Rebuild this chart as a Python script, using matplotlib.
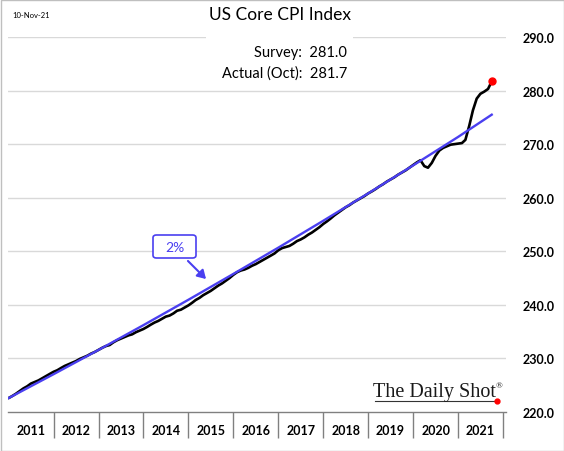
import matplotlib
matplotlib.use("Agg")
import matplotlib.pyplot as plt
import matplotlib.dates as mdates
from matplotlib.patches import Rectangle, FancyBboxPatch
from matplotlib.lines import Line2D
import pandas as pd

# ---------------- data ----------------
months = pd.date_range("2011-01-01", "2021-10-01", freq="MS")
core_cpi = [
    # 2011
    222.6, 223.0, 223.4, 223.9, 224.4, 224.8, 225.3, 225.6, 225.9, 226.3, 226.7, 227.1,
    # 2012
    227.5, 227.8, 228.2, 228.6, 228.9, 229.2, 229.5, 229.9, 230.2, 230.5, 230.9, 231.2,
    # 2013
    231.6, 232.0, 232.3, 232.5, 233.0, 233.4, 233.7, 234.0, 234.3, 234.5, 234.9, 235.2,
    # 2014
    235.5, 235.9, 236.3, 236.7, 237.0, 237.4, 237.8, 238.0, 238.4, 238.9, 239.1, 239.5,
    # 2015
    239.9, 240.4, 240.9, 241.3, 241.8, 242.2, 242.6, 243.1, 243.6, 244.0, 244.5, 245.0,
    # 2016
    245.6, 246.1, 246.4, 246.6, 246.9, 247.3, 247.6, 248.0, 248.4, 248.8, 249.2, 249.6,
    # 2017
    250.2, 250.6, 250.8, 251.0, 251.4, 251.9, 252.2, 252.6, 253.1, 253.5, 254.0, 254.5,
    # 2018
    255.1, 255.6, 256.1, 256.7, 257.2, 257.7, 258.2, 258.6, 259.1, 259.5, 259.9, 260.3,
    # 2019
    260.8, 261.2, 261.6, 262.1, 262.5, 263.0, 263.4, 263.8, 264.3, 264.7, 265.1, 265.6,
    # 2020
    266.1, 266.6, 267.0, 265.9, 265.6, 266.5, 267.8, 268.8, 269.3, 269.6, 269.9, 270.0,
    # 2021
    270.1, 270.2, 270.8, 273.4, 276.3, 278.5, 279.4, 279.8, 280.3, 281.7,
]
trend_dates = pd.to_datetime([
    "2011-01-01", "2012-01-01", "2013-01-01", "2014-01-01", "2015-01-01", "2016-01-01",
    "2017-01-01", "2018-01-01", "2019-01-01", "2020-01-01", "2021-01-01", "2021-10-01",
])
trend_vals = [222.6, 227.05, 231.59, 236.22, 240.95, 245.77,
              250.68, 255.70, 260.81, 266.03, 271.35, 275.5]
year_labels = ["2011", "2012", "2013", "2014", "2015", "2016",
               "2017", "2018", "2019", "2020", "2021"]
y_ticks = [220, 230, 240, 250, 260, 270, 280, 290]

title = "US Core CPI Index"
date_note = "10-Nov-21"
survey_text = "Survey:  281.0"
actual_text = "Actual (Oct):  281.7"

# ---------------- style ----------------
FONT = ["Lato", "DejaVu Sans"]
plt.rcParams["font.family"] = FONT
BLUE = "#4a3ff0"
W, H = 564, 452

fig = plt.figure(figsize=(W / 100, H / 100), dpi=100)
ax = fig.add_axes([8 / W, 1 - 413 / H, (506 - 8) / W, (413 - 38) / H])

ax.plot(months, core_cpi, color="black", lw=1.9, solid_joinstyle="round",
        solid_capstyle="round", zorder=3)
ax.plot(trend_dates, trend_vals, color=BLUE, lw=1.7, zorder=4)
ax.plot(months[-1:], core_cpi[-1:], "o", color="red", ms=5, zorder=5)

ax.set_ylim(220, 290)
ax.set_xlim(pd.Timestamp("2010-12-27"), pd.Timestamp("2022-01-25"))

# y axis on right
ax.yaxis.tick_right()
ax.set_yticks(y_ticks)
ax.set_yticklabels([f"{v:.1f}" for v in y_ticks], fontsize=9, fontweight="bold")
ax.tick_params(axis="y", length=0, pad=12)
for v in y_ticks[1:]:
    ax.axhline(v, color="#d9d9d9", lw=1, zorder=1)

# x axis: year boundaries as major ticks, labels at mid-year
bounds = [mdates.date2num(pd.Timestamp(f"{y}-01-01")) for y in range(2012, 2023)]
mids = [mdates.date2num(pd.Timestamp(f"{y}-07-02")) for y in range(2011, 2022)]
ax.xaxis.set_major_locator(matplotlib.ticker.FixedLocator(bounds))
ax.xaxis.set_major_formatter(matplotlib.ticker.NullFormatter())
ax.xaxis.set_minor_locator(matplotlib.ticker.FixedLocator(mids))
ax.xaxis.set_minor_formatter(matplotlib.ticker.FixedFormatter(year_labels))
ax.tick_params(axis="x", which="major", length=19, width=1, color="#808080", direction="out")
ax.tick_params(axis="x", which="minor", length=0, pad=9, labelsize=9)
for lab in ax.xaxis.get_minorticklabels():
    lab.set_fontweight("bold")

for s in ["top", "right", "left"]:
    ax.spines[s].set_visible(False)
ax.spines["bottom"].set_color("#808080")
ax.spines["bottom"].set_linewidth(1)
ax.spines["bottom"].set_zorder(2)

# white box behind survey text
fig.patches.append(Rectangle((206 / W, 1 - 86 / H), (353 - 206) / W, (86 - 26) / H,
                             transform=fig.transFigure, facecolor="white",
                             edgecolor="none", zorder=2))

fig.text(280 / W, 1 - 15 / H, title, ha="center", va="center", fontsize=12.5, zorder=5)
fig.text(12 / W, 1 - 16 / H, date_note, ha="left", va="center", fontsize=5.5, zorder=5)
fig.text(347 / W, 1 - 53 / H, survey_text, ha="right", va="center", fontsize=10.5, zorder=5)
fig.text(347 / W, 1 - 74 / H, actual_text, ha="right", va="center", fontsize=10.5, zorder=5)

# 2% callout
box = FancyBboxPatch((153 / W, 1 - 259 / H), (196 - 153) / W, (259 - 236) / H,
                     boxstyle="round,pad=0,rounding_size=0.006",
                     transform=fig.transFigure, facecolor="white",
                     edgecolor=BLUE, lw=1.2, zorder=6)
fig.patches.append(box)
fig.text(174.5 / W, 1 - 247.5 / H, "2%", ha="center", va="center",
         fontsize=10, color=BLUE, zorder=7)
fig.add_artist(matplotlib.patches.FancyArrowPatch(
    (186 / W, 1 - 260 / H), (208 / W, 1 - 282 / H), transform=fig.transFigure,
    arrowstyle="-|>,head_length=5,head_width=3", color=BLUE, lw=1.5, zorder=7))

# logo
SERIF = ["Liberation Serif", "DejaVu Serif"]
fig.text(373 / W, 1 - 393 / H, "The Daily Shot", ha="left", va="center",
         fontsize=14.5, family=SERIF, color="#1a1a1a", zorder=7)
fig.text(496 / W, 1 - 386 / H, "®", ha="left", va="center",
         fontsize=6.5, family=SERIF, color="#1a1a1a", zorder=7)
fig.add_artist(Line2D([375 / W, 497 / W], [1 - 402 / H, 1 - 402 / H],
                      transform=fig.transFigure, color="#333333", lw=0.8, zorder=7))
fig.add_artist(Line2D([497 / W], [1 - 402 / H], transform=fig.transFigure,
                      marker="o", ms=3.5, color="red", zorder=8))

# outer frame
fig.patches.append(Rectangle((0.5 / W, 0.5 / H), (W - 1) / W, (H - 1) / H,
                             transform=fig.transFigure, facecolor="none",
                             edgecolor="#bfbfbf", lw=1, zorder=10))

fig.savefig("out.png", dpi=100)
